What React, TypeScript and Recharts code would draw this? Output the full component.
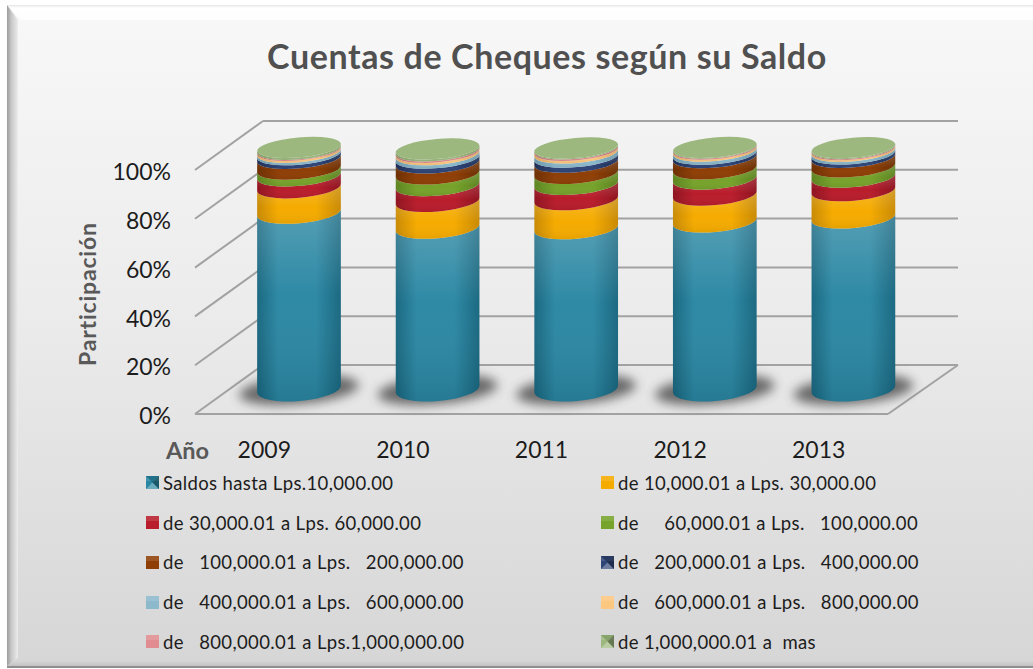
import React from "react";
import { BarChart, Bar, XAxis, YAxis, CartesianGrid, Legend } from "recharts";

const years = ["2009", "2010", "2011", "2012", "2013"];
const seriesNames = [
  "Saldos hasta Lps.10,000.00",
  "de 10,000.01 a Lps. 30,000.00",
  "de 30,000.01 a Lps. 60,000.00",
  "de     60,000.01 a Lps.   100,000.00",
  "de   100,000.01 a Lps.   200,000.00",
  "de   200,000.01 a Lps.   400,000.00",
  "de   400,000.01 a Lps.   600,000.00",
  "de   600,000.01 a Lps.   800,000.00",
  "de   800,000.01 a Lps.1,000,000.00",
  "de 1,000,000.01 a  mas",
];
const s0 = [73.0, 66.8, 66.6, 69.4, 71.0];
const s1 = [10.4, 11.0, 11.9, 11.0, 11.2];
const s2 = [4.9, 6.5, 6.3, 6.6, 5.6];
const s3 = [2.8, 4.8, 4.5, 4.2, 4.2];
const s4 = [4.4, 4.5, 4.6, 4.6, 3.9];
const s5 = [1.5, 2.0, 2.1, 1.4, 1.4];
const s6 = [1.0, 1.4, 1.7, 1.3, 1.1];
const s7 = [0.8, 1.0, 1.1, 0.8, 0.7];
const s8 = [0.4, 0.6, 0.6, 0.4, 0.4];
const s9 = [0.8, 0.8, 0.4, 0.3, 0.4];
const seriesValues = [s0, s1, s2, s3, s4, s5, s6, s7, s8, s9];
const colors = ["#2a87a3", "#f5ab00", "#b91d2c", "#76a32b", "#8f3f06", "#2f4578", "#8cb9cc", "#fcc77f", "#e08c90", "#9db87f"];
const edgeColors = ["#17667f", "#c98a05", "#8f1420", "#5d8420", "#6d2f03", "#1d2e56", "#6a98ac", "#d8a560", "#b96a6e", "#7f9a62"];
const beveled = [true, false, false, false, false, true, false, false, false, true];
const yTicks = [0, 20, 40, 60, 80, 100];

const data = years.map((year, i) => {
  const row: Record<string, any> = { year };
  seriesValues.forEach((vals, k) => (row["s" + k] = vals[i]));
  return row;
});

const DEPTH_X = 68;
const DEPTH_Y = 49;
const BAR_DX = 35;
const BAR_DY = -25;
const TILT = 5;

function arcGeom(cx: number, y: number, rx: number) {
  const t = (TILT * Math.PI) / 180;
  const ry = 10 + ((y - 150) / 240) * 2;
  return { lx: cx - rx * Math.cos(t), ly: y + rx * Math.sin(t), rxp: cx + rx * Math.cos(t), ryp: y - rx * Math.sin(t), ry };
}

function makeCylinder(k: number, isTop: boolean) {
  return function Cyl(props: any) {
    const { x, y, width, height } = props;
    const cx = x + width / 2 + BAR_DX;
    const rx = width / 2;
    const yt = y + BAR_DY;
    const yb = y + height + BAR_DY;
    const a = arcGeom(cx, yt, rx);
    const b = arcGeom(cx, yb, rx);
    const d = `M${a.lx} ${a.ly} A${rx} ${a.ry} ${-TILT} 0 0 ${a.rxp} ${a.ryp} L${b.rxp} ${b.ryp} A${rx} ${b.ry} ${-TILT} 0 1 ${b.lx} ${b.ly} Z`;
    return (
      <g>
        {k === 0 && (
          <ellipse cx={cx} cy={yb + 1} rx={60} ry={14} transform={`rotate(${-TILT} ${cx} ${yb + 1})`} fill="#444444" opacity={0.78} filter="url(#blurShadow)" />
        )}
        <path d={d} fill={`url(#side${k})`} />
        <path d={d} fill={k === 0 ? "url(#glowTeal)" : "url(#glow)"} />
        {isTop && (
          <ellipse cx={cx} cy={yt} rx={rx} ry={a.ry} transform={`rotate(${-TILT} ${cx} ${yt})`} fill={colors[k]} />
        )}
      </g>
    );
  };
}

function gridLine(props: any) {
  const { x1, y1, x2, y, height } = props;
  const stroke = "#a2a2a2";
  const floor = Math.abs(y1 - (y + height)) < 1;
  return (
    <g key={props.key ?? y1}>
      <line x1={x1} y1={y1} x2={x1 + DEPTH_X} y2={y1 - DEPTH_Y} stroke={stroke} strokeWidth={2} />
      <line x1={x1 + DEPTH_X} y1={y1 - DEPTH_Y} x2={x2 + DEPTH_X + 2} y2={y1 - DEPTH_Y} stroke={stroke} strokeWidth={2} />
      {floor && <line x1={x1} y1={y1} x2={x2} y2={y1} stroke={stroke} strokeWidth={2} />}
      {floor && <line x1={x2} y1={y1} x2={x2 + DEPTH_X + 2} y2={y1 - DEPTH_Y} stroke={stroke} strokeWidth={2} />}
    </g>
  );
}

function Marker({ k }: { k: number }) {
  return (
    <svg width={13} height={13} style={{ display: "block", flex: "none" }}>
      <rect x={0} y={0} width={13} height={13} fill={colors[k]} />
      <rect x={0} y={0} width={13} height={5} fill="#ffffff" opacity={0.12} />
      {beveled[k] && <polygon points="0,0 13,0 6.5,6.5" fill={edgeColors[k]} opacity={0.75} />}
      {beveled[k] && <polygon points="0,13 13,13 6.5,6.5" fill="#ffffff" opacity={0.3} />}
      {beveled[k] && <polygon points="13,0 13,13 6.5,6.5" fill="#000000" opacity={0.35} />}
    </svg>
  );
}

function LegendBox() {
  return (
    <div style={{ display: "grid", gridTemplateColumns: "455px 400px", gridAutoRows: "39.75px", alignItems: "center" }}>
      {seriesNames.map((name, k) => (
        <div key={k} style={{ display: "flex", alignItems: "center", gap: 4, whiteSpace: "pre", fontFamily: "Lato", fontSize: 18.5, letterSpacing: 0.36, color: "#1c1c1c" }}>
          <Marker k={k} />
          <span>{name}</span>
        </div>
      ))}
    </div>
  );
}

function Background() {
  return (
    <div style={{ position: "absolute", left: 7, top: 5, width: 1026, height: 661, background: "linear-gradient(180deg,#f8f8f8 0%,#ececec 45%,#d6d6d6 100%)", borderBottom: "2px solid #8f8f8f", boxSizing: "content-box" }}>
      <div style={{ position: "absolute", left: 0, top: 0, width: "100%", height: 15, background: "linear-gradient(180deg,#e6e6e6 0px,#ffffff 3px,#fdfdfd 100%)", clipPath: "polygon(0 0,100% 0,100% 100%,14px 100%)" }} />
      <div style={{ position: "absolute", left: 0, top: 0, width: 11, height: "100%", background: "linear-gradient(90deg,#9c9c9c 0%,#c8c8c8 40%,#ececec 100%)", clipPath: "polygon(0 0,100% 15px,100% calc(100% - 8px),0 100%)" }} />
      <div style={{ position: "absolute", left: 0, bottom: 0, width: "100%", height: 5, background: "linear-gradient(180deg,#d6d6d6,#c2c2c2)", clipPath: "polygon(8px 0,100% 0,100% 100%,0 100%)" }} />
    </div>
  );
}

export default function App() {
  return (
    <div style={{ position: "absolute", left: 0, top: 0, width: 1033, height: 669, overflow: "hidden" }}>
      <Background />
      <div style={{ position: "absolute", left: 0, top: 0 }}>
        <BarChart
          width={1033}
          height={669}
          data={data}
          margin={{ top: 170, left: 135, right: 145, bottom: 205 }}
          barCategoryGap={0}
        >
          <defs>
            <filter id="blurShadow" x="-30%" y="-80%" width="160%" height="260%">
              <feGaussianBlur stdDeviation="5.5" />
            </filter>
            {colors.map((c, k) => (
              <linearGradient key={k} id={`side${k}`} x1="0" x2="1" y1="0" y2="0">
                <stop offset="0%" stopColor={edgeColors[k]} />
                <stop offset="25%" stopColor={c} />
                <stop offset="70%" stopColor={c} />
                <stop offset="100%" stopColor={edgeColors[k]} />
              </linearGradient>
            ))}
            <linearGradient id="glow" x1="0" x2="0" y1="0" y2="1">
              <stop offset="0%" stopColor="#ffffff" stopOpacity={0.18} />
              <stop offset="60%" stopColor="#ffffff" stopOpacity={0} />
              <stop offset="100%" stopColor="#000000" stopOpacity={0.06} />
            </linearGradient>
            <linearGradient id="glowTeal" x1="0" x2="0" y1="0" y2="1">
              <stop offset="0%" stopColor="#ffffff" stopOpacity={0.2} />
              <stop offset="45%" stopColor="#ffffff" stopOpacity={0.02} />
              <stop offset="100%" stopColor="#000000" stopOpacity={0.1} />
            </linearGradient>
          </defs>
          <text x={547} y={69} textAnchor="middle" fontFamily="Lato" fontWeight={700} fontSize={34} letterSpacing={0.6} fill="#505050">
            Cuentas de Cheques según su Saldo
          </text>
          <CartesianGrid vertical={false} horizontal={gridLine as any} yAxisId={0} />
          <XAxis
            dataKey="year"
            axisLine={false}
            tickLine={false}
            height={50}
            tickMargin={22}
            tick={{ fontFamily: "Lato", fontSize: 23, fill: "#1c1c1c" }}
            label={{ value: "Año", position: "insideBottomLeft", offset: 0, dx: -29, dy: -5, fontFamily: "Lato", fontWeight: 700, fontSize: 23.5, fill: "#595959" }}
          />
          <YAxis
            yAxisId={0}
            domain={[0, 100]}
            allowDataOverflow
            ticks={yTicks}
            width={60}
            axisLine={false}
            tickLine={false}
            tickMargin={18}
            tickFormatter={(v: number) => `${v}%`}
            tick={{ fontFamily: "Lato", fontSize: 23, fill: "#1c1c1c", dy: 2 }}
            label={{ value: "Participación", angle: -90, position: "insideLeft", dx: -52, dy: 74, fontFamily: "Lato", fontWeight: 700, fontSize: 23, letterSpacing: 0.8, fill: "#595959" }}
          />
          <YAxis yAxisId="bars" hide domain={[0, 101]} />
          {seriesNames.map((name, k) => (
            <Bar
              key={k}
              yAxisId="bars"
              dataKey={`s${k}`}
              name={name}
              stackId="a"
              barSize={84}
              fill={colors[k]}
              isAnimationActive={false}
              shape={makeCylinder(k, k === seriesNames.length - 1) as any}
            />
          ))}
          <Legend
            layout="vertical"
            align="center"
            verticalAlign="middle"
            wrapperStyle={{ left: 146, top: 463, width: 860, height: 200 }}
            content={() => <LegendBox />}
          />
        </BarChart>
      </div>
    </div>
  );
}
